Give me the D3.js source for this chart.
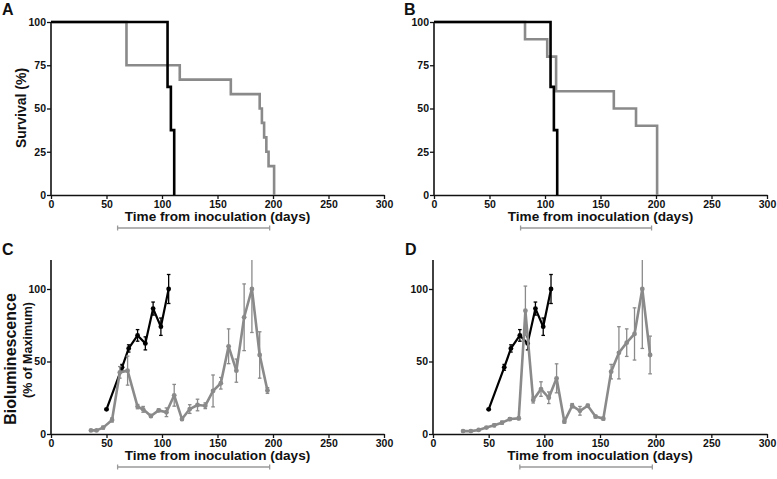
<!DOCTYPE html>
<html>
<head>
<meta charset="utf-8">
<script src="https://cdn.jsdelivr.net/npm/d3@7"></script>
<style>
  html, body { margin: 0; padding: 0; background: #fff; }
  svg text { font-family: "Liberation Sans", Arial, sans-serif; }
</style>
</head>
<body>
<svg id="chart" width="777" height="479"></svg>
<script>
// ---------- DATA ----------
const xTicks = [0, 50, 100, 150, 200, 250, 300];
const survTicks = [0, 25, 50, 75, 100];
const bioTicks = [0, 50, 100];
const xLabel = "Time from inoculation (days)";

// Panel A survival (Kaplan-Meier steps)
const aBlackDays = [0, 105, 108, 111];
const aBlackSurv = [100, 62.5, 37.5, 0];
const aGrayDays = [0, 68, 116, 162, 188, 190, 192, 194, 196, 201];
const aGraySurv = [100, 75, 66.7, 58.3, 50, 41.7, 33.3, 25, 16.7, 0];

// Panel B survival
const bBlackDays = [0, 105, 108, 111];
const bBlackSurv = [100, 62.5, 37.5, 0];
const bGrayDays = [0, 82, 102, 110, 162, 182, 201];
const bGraySurv = [100, 90, 80, 60, 50, 40, 0];

// Treatment window brackets (days)
const aBracket = [60, 197];
const bBracket = [78, 196];
const cBracket = [60, 197];
const dBracket = [78, 197];

// Panel C bioluminescence
const cBlackDays = [50, 64, 70, 78, 85, 92, 99, 106];
const cBlackVals = [17, 46, 59, 68, 62.5, 86.5, 74, 100];
const cBlackErr  = [0.5, 2, 2.5, 4, 4.5, 4.5, 6, 10];
const cGrayDays = [36, 41, 47, 55, 62, 69, 78, 83, 90, 97, 104, 111, 118, 125, 132, 139, 146, 153, 160, 167, 174, 181, 188, 195];
const cGrayVals = [2.5, 2.5, 4.4, 9.7, 42.5, 43.7, 18.9, 17, 12.4, 16.3, 15, 26.7, 10.3, 17.2, 20, 19.5, 29.7, 35, 60.5, 43.7, 80.5, 100, 54.5, 30];
const cGrayErr  = [0.5, 0.5, 1, 1.5, 4, 10, 1.5, 2, 1, 1, 3, 7.5, 1, 3, 4, 2, 11, 4, 12, 8, 23, 30, 16, 2];

// Panel D bioluminescence
const dBlackDays = [50, 64, 70, 78, 85, 92, 99, 106];
const dBlackVals = [17, 46, 59, 68, 62.5, 86.5, 74, 100];
const dBlackErr  = [0.5, 2, 2.5, 4, 4.5, 4.5, 6, 10];
const dGrayDays = [27, 34, 41, 48, 55, 62, 69, 77, 83, 90, 97, 104, 111, 118, 125, 132, 139, 146, 153, 160, 167, 174, 181, 188, 195];
const dGrayVals = [2, 2, 2.8, 4.4, 6, 7.8, 10.3, 10.8, 85, 23.4, 31, 25, 38.4, 8.5, 19.5, 16, 19.5, 12, 10.6, 43, 56, 63, 69, 100, 54.5];
const dGrayErr  = [0.5, 0.5, 0.5, 0.5, 1, 1, 1, 1, 17, 2, 5, 4, 10, 1, 1.5, 3, 1, 1, 1, 5, 18, 9.5, 18, 41, 13];

// ---------- DRAWING ----------
const svg = d3.select("#chart");
const BLACK = "#000", GRAY = "#8a8a8a", BRACKET = "#9a9a9a";
const FONT = '"Liberation Sans", Arial, sans-serif';

function zip(days, vals, errs) {
  return days.map((d, i) => ({ d, v: vals[i], e: errs ? errs[i] : 0 }));
}

function makePanel(opt) {
  const x = d3.scaleLinear().domain([0, 300]).range([opt.x0, opt.x1]);
  const y = d3.scaleLinear().domain([0, opt.yMax]).range([opt.y0, opt.y1]);
  const g = svg.append("g");

  // panel letter
  g.append("text").attr("x", opt.lx).attr("y", opt.ly)
    .attr("font-size", 16).attr("font-weight", "bold").attr("fill", "#111")
    .text(opt.letter);

  // axes
  const xa = g.append("g").attr("transform", `translate(0,${opt.y0})`)
    .call(d3.axisBottom(x).tickValues(xTicks).tickSize(4).tickPadding(2).tickSizeOuter(0));
  const ya = g.append("g").attr("transform", `translate(${opt.x0},0)`)
    .call(d3.axisLeft(y).tickValues(opt.yTicks).tickSize(4).tickPadding(1).tickSizeOuter(0));
  [xa, ya].forEach(a => {
    a.select(".domain").attr("stroke", "#111").attr("stroke-width", 1.6);
    a.selectAll(".tick line").attr("stroke", "#111").attr("stroke-width", 1.3);
    a.selectAll(".tick text").attr("font-family", FONT).attr("font-size", 10.5)
      .attr("font-weight", "bold").attr("fill", "#111");
  });
  ya.select(".domain").attr("d", `M0,${opt.y0}V${y(opt.yMax)}`);

  // x label
  g.append("text").attr("x", (opt.x0 + opt.x1) / 2).attr("y", opt.y0 + 26)
    .attr("text-anchor", "middle").attr("font-size", 13.6).attr("font-weight", "bold")
    .attr("fill", "#111").text(xLabel);

  // bracket
  const by = opt.y0 + 33;
  const bg = g.append("g").attr("stroke", BRACKET).attr("stroke-width", 1.3);
  bg.append("line").attr("x1", x(opt.bracket[0])).attr("x2", x(opt.bracket[1])).attr("y1", by).attr("y2", by);
  opt.bracket.forEach(b => bg.append("line").attr("x1", x(b)).attr("x2", x(b)).attr("y1", by - 2.5).attr("y2", by + 2.5));

  return { g, x, y };
}

function survival(p, days, surv, color) {
  const data = zip(days, surv);
  const line = d3.line().curve(d3.curveStepAfter).x(d => p.x(d.d)).y(d => p.y(d.v));
  p.g.append("path").datum(data).attr("d", line).attr("fill", "none")
    .attr("stroke", color).attr("stroke-width", 2.6).attr("stroke-linejoin", "miter");
}

let clipId = 0;
function bio(p, days, vals, errs, color, lw) {
  const data = zip(days, vals, errs);
  const id = "clip" + (clipId++);
  const [r0, r1] = p.x.range();
  const [t0, t1] = p.y.range();
  svg.append("clipPath").attr("id", id).append("rect")
    .attr("x", r0 - 5).attr("y", t1).attr("width", r1 - r0 + 10).attr("height", t0 - t1);
  const g = p.g.append("g").attr("clip-path", `url(#${id})`);
  const eg = g.append("g").attr("stroke", color).attr("stroke-width", 1.3);
  data.forEach(d => {
    const cx = p.x(d.d);
    eg.append("line").attr("x1", cx).attr("x2", cx).attr("y1", p.y(d.v - d.e)).attr("y2", p.y(d.v + d.e));
    eg.append("line").attr("x1", cx - 1.8).attr("x2", cx + 1.8).attr("y1", p.y(d.v + d.e)).attr("y2", p.y(d.v + d.e));
    eg.append("line").attr("x1", cx - 1.8).attr("x2", cx + 1.8).attr("y1", p.y(d.v - d.e)).attr("y2", p.y(d.v - d.e));
  });
  const line = d3.line().x(d => p.x(d.d)).y(d => p.y(d.v));
  g.append("path").datum(data).attr("d", line).attr("fill", "none")
    .attr("stroke", color).attr("stroke-width", lw).attr("stroke-linejoin", "round");
  g.selectAll(null).data(data).join("circle")
    .attr("cx", d => p.x(d.d)).attr("cy", d => p.y(d.v)).attr("r", 2.4).attr("fill", color);
}

// Panel A
const pA = makePanel({ letter: "A", lx: 2, ly: 15, x0: 51, x1: 384, y0: 195, y1: 22, yMax: 100, yTicks: survTicks, bracket: aBracket });
survival(pA, aGrayDays, aGraySurv, GRAY);
survival(pA, aBlackDays, aBlackSurv, BLACK);
pA.g.append("text").attr("transform", "translate(26,108) rotate(-90)")
  .attr("text-anchor", "middle").attr("font-size", 14).attr("font-weight", "bold")
  .attr("fill", "#111").text("Survival (%)");

// Panel B
const pB = makePanel({ letter: "B", lx: 404, ly: 15, x0: 434, x1: 767, y0: 195, y1: 22, yMax: 100, yTicks: survTicks, bracket: bBracket });
survival(pB, bGrayDays, bGraySurv, GRAY);
survival(pB, bBlackDays, bBlackSurv, BLACK);

// Panel C
const pC = makePanel({ letter: "C", lx: 2, ly: 255, x0: 51, x1: 384, y0: 434, y1: 260, yMax: 120, yTicks: bioTicks, bracket: cBracket });
bio(pC, cBlackDays, cBlackVals, cBlackErr, BLACK, 2.2);
bio(pC, cGrayDays, cGrayVals, cGrayErr, GRAY, 2.6);
pC.g.append("text").attr("transform", "translate(16,359) rotate(-90)")
  .attr("text-anchor", "middle").attr("font-size", 16).attr("font-weight", "bold")
  .attr("fill", "#111").text("Bioluminescence");
pC.g.append("text").attr("transform", "translate(32,350) rotate(-90)")
  .attr("text-anchor", "middle").attr("font-size", 12.5).attr("font-weight", "bold")
  .attr("fill", "#111").text("(% of Maximum)");

// Panel D
const pD = makePanel({ letter: "D", lx: 405, ly: 255, x0: 433, x1: 767, y0: 434, y1: 260, yMax: 120, yTicks: bioTicks, bracket: dBracket });
bio(pD, dBlackDays, dBlackVals, dBlackErr, BLACK, 2.2);
bio(pD, dGrayDays, dGrayVals, dGrayErr, GRAY, 2.6);
</script>
</body>
</html>
